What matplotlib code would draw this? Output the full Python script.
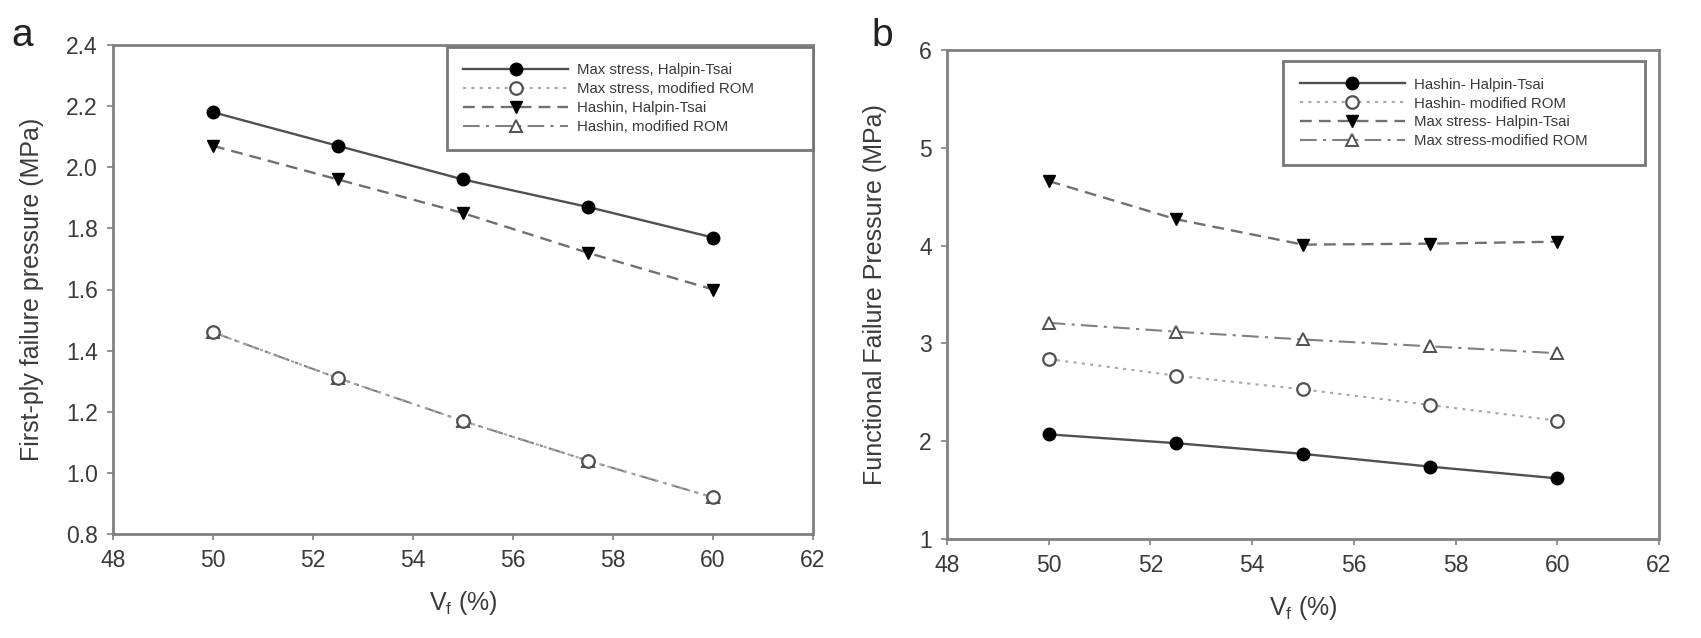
import matplotlib
matplotlib.use("Agg")
from matplotlib import pyplot as plt

plt.rcParams['font.family'] = ['Liberation Sans', 'DejaVu Sans']

vf = [50, 52.5, 55, 57.5, 60]

# panel a: first-ply failure pressure (MPa)
a_max_ht = [2.18, 2.07, 1.96, 1.87, 1.77]
a_max_rom = [1.46, 1.31, 1.17, 1.04, 0.92]
a_hashin_ht = [2.07, 1.96, 1.85, 1.72, 1.60]
a_hashin_rom = [1.46, 1.31, 1.17, 1.04, 0.92]
a_labels = ["Max stress, Halpin-Tsai", "Max stress, modified ROM",
            "Hashin, Halpin-Tsai", "Hashin, modified ROM"]

# panel b: functional failure pressure (MPa)
b_hashin_ht = [2.07, 1.98, 1.87, 1.74, 1.62]
b_hashin_rom = [2.84, 2.67, 2.53, 2.37, 2.21]
b_max_ht = [4.66, 4.27, 4.01, 4.02, 4.04]
b_max_rom = [3.21, 3.12, 3.04, 2.97, 2.90]
b_labels = ["Hashin- Halpin-Tsai", "Hashin- modified ROM",
            "Max stress- Halpin-Tsai", "Max stress-modified ROM"]

x_ticks = [48, 50, 52, 54, 56, 58, 60, 62]
a_yticks = [0.8, 1.0, 1.2, 1.4, 1.6, 1.8, 2.0, 2.2, 2.4]
b_yticks = [1, 2, 3, 4, 5, 6]

spine_col = '#808080'
text_col = '#3a3a3a'

# four line styles shared by both panels
styles = [
    dict(color='#505050', ls='-', lw=1.7, marker='o', ms=9, mfc='black', mec='black'),
    dict(color='#a8a8a8', ls=(0, (1.5, 2.5)), lw=1.5, marker='o', ms=9, mfc='white', mec='#505050', mew=1.6),
    dict(color='#707070', ls=(0, (5, 3)), lw=1.7, marker='v', ms=9, mfc='black', mec='black'),
    dict(color='#808080', ls=(0, (8, 3, 1.5, 3)), lw=1.5, marker='^', ms=9, mfc='white', mec='#505050', mew=1.4),
]


def style_axes(ax, yticks, ylabel, ylab_x, fmt):
    ax.set_xlim(48, 62)
    ax.set_ylim(yticks[0], yticks[-1])
    ax.set_xticks(x_ticks)
    ax.set_yticks(yticks)
    ax.set_yticklabels([fmt.format(t) for t in yticks])
    for s in ax.spines.values():
        s.set_color(spine_col)
        s.set_linewidth(2)
    ax.tick_params(direction='out', length=4, width=1.2, color=spine_col,
                   labelsize=16.5, labelcolor=text_col, pad=7)
    ax.set_xlabel(r"V$_\mathregular{f}$ (%)", fontsize=18, color=text_col, labelpad=12)
    ax.set_ylabel(ylabel, fontsize=18, color=text_col)
    ax.yaxis.set_label_coords(ylab_x, 0.5)


def add_legend(ax, lines, labels, x0, top, w):
    leg = ax.legend(lines, labels, loc='upper left', bbox_to_anchor=(x0, 0, w, top),
                    mode='expand', fontsize=10.8, handlelength=7.0, labelspacing=0.32,
                    borderpad=1.1, handletextpad=0.6, fancybox=False, framealpha=1,
                    borderaxespad=0)
    leg.get_frame().set_edgecolor('#777777')
    leg.get_frame().set_linewidth(2)
    for t in leg.get_texts():
        t.set_color(text_col)


fig = plt.figure(figsize=(17.01, 6.38), dpi=100)
ax_a = fig.add_axes([113 / 1701, 104 / 638, 700 / 1701, 489 / 638])
ax_b = fig.add_axes([947 / 1701, 99 / 638, 712 / 1701, 489 / 638])

lines_a = []
for vals, st, z in zip([a_max_ht, a_max_rom, a_hashin_ht, a_hashin_rom], styles, [3, 4, 3, 3]):
    ln, = ax_a.plot(vf, vals, zorder=z, **st)
    lines_a.append(ln)
style_axes(ax_a, a_yticks, "First-ply failure pressure (MPa)", -0.098, "{:.1f}")
add_legend(ax_a, lines_a, a_labels, 0.477, 0.996, 0.523)

lines_b = []
for vals, st in zip([b_hashin_ht, b_hashin_rom, b_max_ht, b_max_rom], styles):
    ln, = ax_b.plot(vf, vals, **st)
    lines_b.append(ln)
style_axes(ax_b, b_yticks, "Functional Failure Pressure (MPa)", -0.084, "{:d}")
add_legend(ax_b, lines_b, b_labels, 0.472, 0.977, 0.508)

fig.text(22 / 1701, 1 - 36 / 638, "a", fontsize=28, color='#222222', ha='center', va='center')
fig.text(882 / 1701, 1 - 36 / 638, "b", fontsize=28, color='#222222', ha='center', va='center')

fig.savefig("out.png", dpi=100)
